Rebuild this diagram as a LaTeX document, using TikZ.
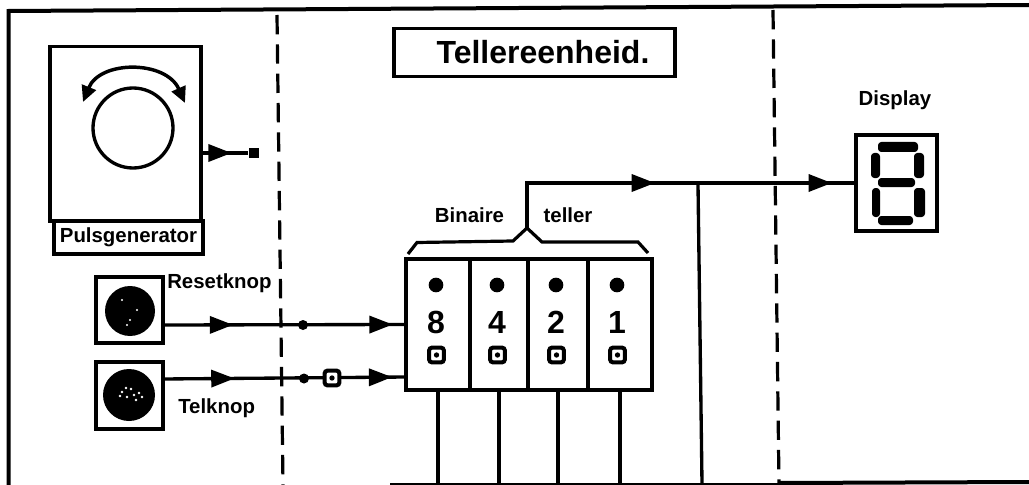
\documentclass[tikz,border=0pt]{standalone}
\usepackage{fontspec}
\setmainfont{Liberation Sans}
\usetikzlibrary{arrows.meta,decorations.markings}
\tikzset{
  x=0.75pt,y=-0.75pt,
  box/.style n args={2}{draw,line width=2.3pt,fill=white,inner sep=0pt,minimum width=#1*0.75pt,minimum height=#2*0.75pt},
  wire/.style={line width=2.5pt},
  frameline/.style={line width=3pt},
  divide/.style={line width=2.4pt,dash pattern=on 14.5pt off 7.5pt},
  midtip/.style={postaction={decorate,decoration={markings,mark=at position #1 with {\fill (1,0)--(-22,-9)--(-22,9)--cycle;}}}},
  label/.style={font=\bfseries\fontsize{15.3}{18}\selectfont,inner sep=0pt},
  junction/.style={circle,fill=black,inner sep=0pt,minimum size=7.5pt},
  knob/.style={circle,fill=black,inner sep=0pt},
  led/.style={circle,fill=black,inner sep=0pt,minimum size=11pt},
  pip/.style={draw,line width=3pt,rounded corners=2pt,fill=white,inner sep=0pt,minimum size=11pt},
  digit/.style={font=\bfseries\fontsize{24}{26}\selectfont,inner sep=0pt},
  seg/.style={fill=black,rounded corners=2.5pt},
  speck/.style={fill=white,inner sep=0pt},
}
\begin{document}
\begin{tikzpicture}
\useasboundingbox (0,0) rectangle (1029,485);
\fill[white] (0,0) rectangle (1029,485);
% frame
\draw[frameline] (8.5,485)--(8.5,11)--(1029,5);
\draw[line width=1pt] (390,484)--(780,484);
\draw[frameline] (780,483)--(1029,482);
% section dividers
\draw[divide] (277,15)--(283,485);
\draw[divide] (773,10)--(779,485);
% title
\node[box={281}{48}] (title) at (534.5,52.5) {};
\node[inner sep=0pt,font=\bfseries\fontsize{24}{28}\selectfont] (titletext) at (543,52) {Tellereenheid.};
% pulse generator
\node[box={151}{175}] (pg) at (125.5,134) {};
\node[box={149}{33},label] (pglabel) at (128.5,237.5) {Pulsgenerator};
\node[draw,circle,line width=2.5pt,inner sep=0pt,minimum size=60pt] (dial) at (133,128) {};
\draw[line width=2.6pt,{Triangle[length=12pt,width=11pt]}-{Triangle[length=12pt,width=11pt]}] (83,102) .. controls (100,60) and (166,60) .. (185,103);
\node[fill=black,inner sep=0pt,minimum width=8pt,minimum height=7pt] (pgend) at (254,153) {};
\coordinate (pgout) at (201,153);
\draw[wire,midtip=0.62] (pgout) -- (pgend);
% buttons
\node[box={67}{66}] (reset) at (129.5,310) {};
\node[knob,minimum size=37.5pt] (resetknob) at (130,311) {};
\node[box={67}{67}] (tel) at (129.5,395.5) {};
\node[knob,minimum size=39pt] (telknob) at (129,395) {};
\foreach \a/\b in {122/300,137/310,130/320,127/325}
  \fill[speck] (\a,\b) circle (0.8pt);
\foreach \a/\b in {122/392,127/397,131/389,134/395,139/393,126/388,136/400,120/396,142/397}
  \fill[speck] (\a,\b) circle (1pt);
\node[label,anchor=west] (resetlabel) at (167,283) {Resetknop};
\node[label,anchor=west] (tellabel) at (178,408) {Telknop};
% counter
\node[box={64}{131}] (b8) at (438,324.5) {};
\node[box={58}{131}] (b4) at (499,324.5) {};
\node[box={60}{131}] (b2) at (558,324.5) {};
\node[box={64}{131}] (b1) at (620,324.5) {};
\foreach \n/\x/\d in {8/436/8,4/497/4,2/556/2,1/617/1}{
  \node[led] (led\n) at (\x,285) {};
  \node[digit] (num\n) at (\x,322) {\d};
  \node[pip] (pip\n) at (\x+.5,355) {};
  \fill (\x+.5,355) circle (2pt);
}
% bracket
\coordinate (peak) at (527,228);
\coordinate (brl) at (408,254);
\coordinate (brr) at (648,253);
\draw[line width=2.4pt] (brl)--(417,242.5)--(513,241)--(peak)--(542,242)--(638,242)--(brr);
\node[label] (binaire) at (469.5,215) {Binaire};
\node[label] (teller) at (568,215) {teller};
% display
\node[box={81}{96}] (disp) at (896.5,183) {};
\node[label] (displaylabel) at (895,100) {Display};
\fill[seg] (878,142) rectangle (918,152);
\fill[seg] (871,153) rectangle (880,178);
\fill[seg] (914,153) rectangle (924,178);
\fill[seg] (878,178) rectangle (915,187);
\fill[seg] (872,188) rectangle (880,217);
\fill[seg] (914,188) rectangle (925,217);
\fill[seg] (878,216) rectangle (913,225);
% connectors
\coordinate (resetout) at (163,325);
\coordinate (telout) at (163,379);
\coordinate (telin) at (406,377);
\draw[wire,midtip=0.285,midtip=0.946] (resetout) -- (b8.west);
\draw[wire,midtip=0.289,midtip=0.938] (telout) -- (telin);
\node[junction] (dotr) at (303,325) {};
\node[junction] (dott) at (304,378.5) {};
\node[pip] (gate) at (332,378) {};
\fill (332,378) circle (2pt);
\draw[wire,midtip=0.461,midtip=0.936] (peak) |- (disp.west);
\coordinate (bottom) at (700,483);
\draw[wire] (b8.south) -- (b8.south |- bottom);
\draw[wire] (b4.south) -- (b4.south |- bottom);
\draw[wire] (b2.south) -- (b2.south |- bottom);
\draw[wire] (b1.south) -- (b1.south |- bottom);
\coordinate (tap) at (698,184);
\draw[wire] (tap) -- (702,483);
\end{tikzpicture}
\end{document}
